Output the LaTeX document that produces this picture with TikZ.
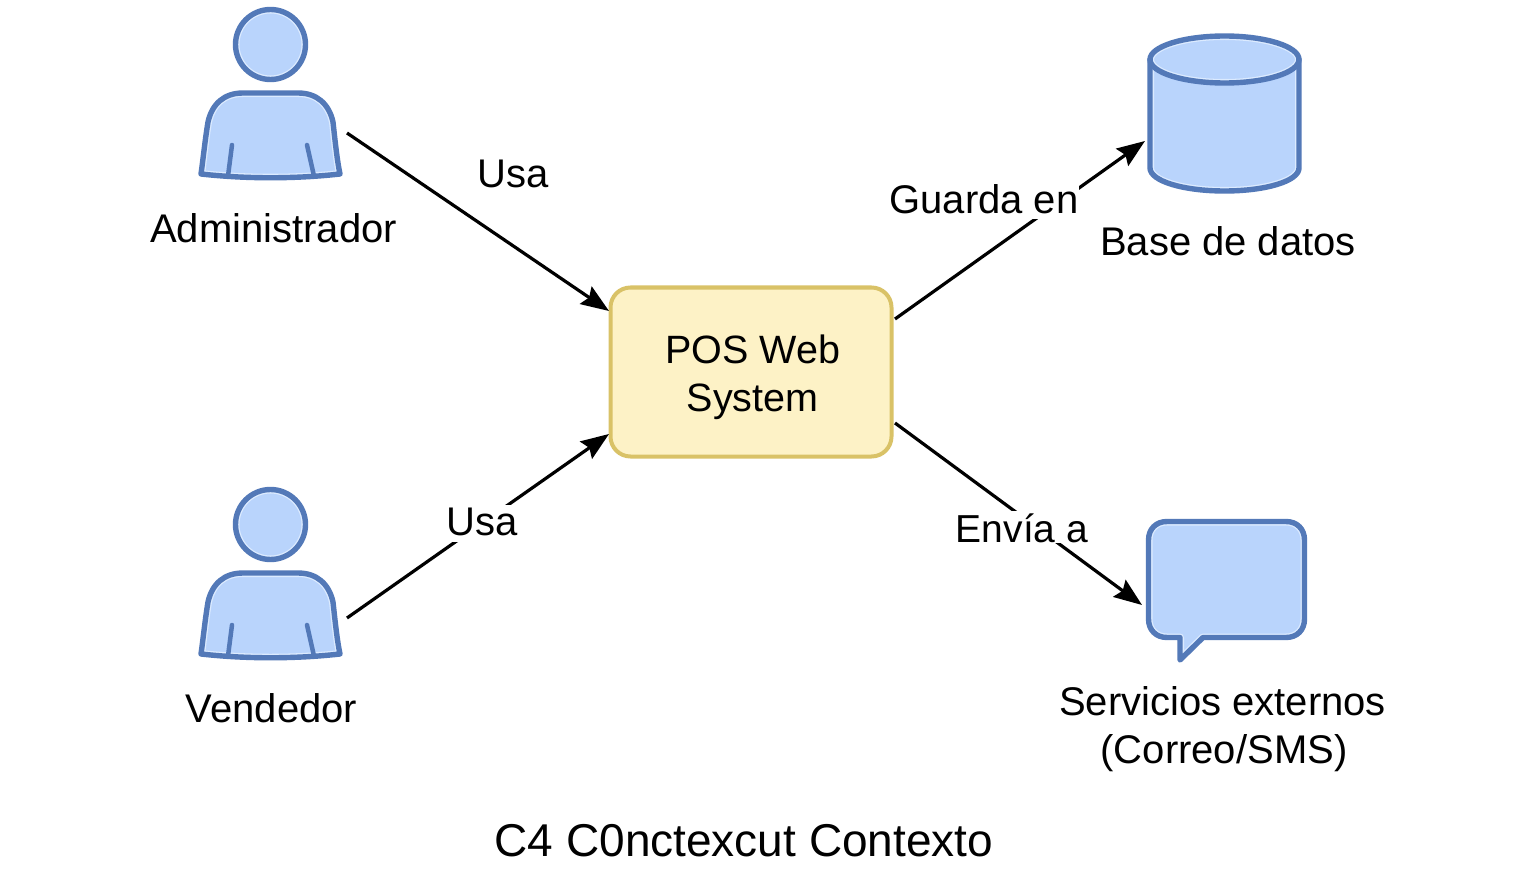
\documentclass[tikz,border=0pt]{standalone}
\usepackage{fontspec}
\setmainfont{Liberation Sans}
\usetikzlibrary{arrows.meta,positioning}
\definecolor{shapeblue}{HTML}{B9D4FC}
\definecolor{edgeblue}{HTML}{5379B8}
\definecolor{paleblue}{HTML}{DCEBFF}
\definecolor{boxfill}{HTML}{FDF2C6}
\definecolor{boxedge}{HTML}{D9C267}
\newcommand{\softshape}[1]{%
  \fill[shapeblue] #1;
  \begin{scope}\clip #1; \draw[paleblue,line width=8pt,line join=round] #1;\end{scope}
  \draw[edgeblue,line width=5.4pt,line join=round,line cap=round] #1;
}
\newcommand{\personat}[1]{%
  \begin{scope}[yshift=-#1pt]
    \softshape{(270.5,44.5) circle[radius=35]}
    \softshape{(201,174) .. controls (203,160) and (205,140) .. (208,122) .. controls (212,104) and (224,93) .. (243,93) -- (298,93) .. controls (317,93) and (329,104) .. (333,122) .. controls (335,140) and (337,160) .. (340,174) .. controls (295,179) and (246,179) .. (201,174) -- cycle}
    \draw[edgeblue,line width=4.5pt,line cap=round] (232,145) -- (228,176);
    \draw[edgeblue,line width=4.5pt,line cap=round] (307,145) -- (314,176);
  \end{scope}
}
\tikzset{
  lbl/.style={font=\fontsize{40}{48}\selectfont,align=center,inner sep=0pt,text=black},
  gaplbl/.style={font=\fontsize{40}{48}\selectfont,fill=white,inner sep=0pt,text=black,anchor=base},
  ttl/.style={font=\fontsize{46}{48}\selectfont,inner sep=0pt,text=black},
  link/.style={draw=black,line width=3.2pt,-{Stealth[length=28pt,width=21pt,inset=4pt]}},
  sysbox/.style={draw=boxedge,fill=boxfill,line width=4pt,rounded corners=20pt,minimum width=281pt,minimum height=169pt,inner sep=0pt}
}
\begin{document}
\begin{tikzpicture}[x=1pt,y=-1pt]
\useasboundingbox (0,0) rectangle (1536,877);
\fill[white] (0,0) rectangle (1536,877);
\personat{0}
\personat{480}
% database
\softshape{(1150,59.5) -- (1150,168) .. controls (1150,181) and (1183,191) .. (1224.5,191) .. controls (1266,191) and (1299,181) .. (1299,168) -- (1299,59.5) -- cycle}
\softshape{(1224.5,59.5) ellipse[x radius=74.5,y radius=23.5]}
% bubble
\softshape{(1167,521.5) -- (1286,521.5) .. controls (1297,521.5) and (1304.5,529) .. (1304.5,540) -- (1304.5,619) .. controls (1304.5,630) and (1297,637.5) .. (1286,637.5) -- (1203,637.5) -- (1180,660) -- (1180,637.5) -- (1167,637.5) .. controls (1156,637.5) and (1148.5,630) .. (1148.5,619) -- (1148.5,540) .. controls (1148.5,529) and (1156,521.5) .. (1167,521.5) -- cycle}
\node[sysbox] (pos) at (751,372) {};
\node[lbl,font=\fontsize{39.5}{48}\selectfont] (posname) at (752.5,377) {POS Web\\System};
\coordinate (adminOut) at (347,133);
\coordinate (vendOut) at (347,618);
\coordinate (posIn1) at (609,311);
\coordinate (posIn2) at (609,434);
\coordinate (posOut1) at (895,319);
\coordinate (posOut2) at (895,423);
\coordinate (dbIn) at (1145,141);
\coordinate (svcIn) at (1142,605);
\draw[link] (adminOut) -- (posIn1);
\draw[link] (vendOut) -- (posIn2);
\draw[link] (posOut1) -- (dbIn);
\draw[link] (posOut2) -- (svcIn);
\node[lbl] (admin) at (273.5,228) {Administrador};
\node[lbl] (vend) at (271.5,708) {Vendedor};
\node[lbl] (db) at (1228,241.5) {Base de datos};
\node[lbl] (svc) at (1222.5,729) {Servicios externos\\\hspace*{3pt}(Correo/SMS)};
\node[lbl] (usa1) at (513,174) {Usa};
\node[gaplbl,text height=30pt,text depth=7pt] (usa2) at (482,535) {Usa};
\node[gaplbl,text height=28pt,text depth=6pt] (guarda) at (984,213.5) {Guarda en};
\node[gaplbl,text height=31pt,text depth=1pt,font=\fontsize{39}{48}\selectfont] (envia) at (1022,542) {Envía a};
\node[ttl] (title) at (744,841) {C4 C0nctexcut Contexto};
\end{tikzpicture}
\end{document}
